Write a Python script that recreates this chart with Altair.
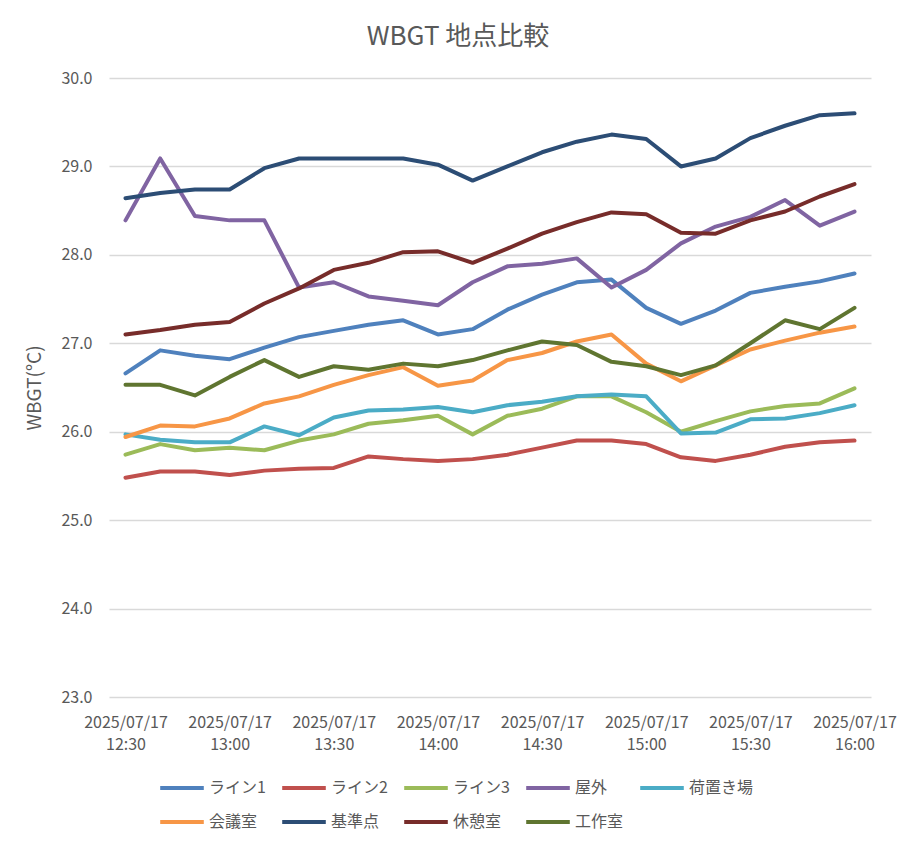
import altair as alt
import pandas as pd

DATE = "2025/07/17"
TIMES = ["12:30", "12:40", "12:50", "13:00", "13:10", "13:20", "13:30", "13:40",
         "13:50", "14:00", "14:10", "14:20", "14:30", "14:40", "14:50", "15:00",
         "15:10", "15:20", "15:30", "15:40", "15:50", "16:00"]
AXIS_TIMES = ["12:30", "13:00", "13:30", "14:00", "14:30", "15:00", "15:30", "16:00"]

SERIES = ["ライン1", "ライン2", "ライン3", "屋外", "荷置き場", "会議室", "基準点", "休憩室", "工作室"]
COLORS = ["#4F81BD", "#C0504D", "#9BBB59", "#8064A2", "#4BACC6", "#F79646", "#2C4D75", "#772C2A", "#5F7530"]

line1 = [26.66, 26.92, 26.86, 26.82, 26.95, 27.07, 27.14, 27.21, 27.26, 27.10, 27.16,
         27.38, 27.55, 27.69, 27.72, 27.40, 27.22, 27.37, 27.57, 27.64, 27.70, 27.79]
line2 = [25.48, 25.55, 25.55, 25.51, 25.56, 25.58, 25.59, 25.72, 25.69, 25.67, 25.69,
         25.74, 25.82, 25.90, 25.90, 25.86, 25.71, 25.67, 25.74, 25.83, 25.88, 25.90]
line3 = [25.74, 25.86, 25.79, 25.82, 25.79, 25.90, 25.97, 26.09, 26.13, 26.18, 25.97,
         26.18, 26.26, 26.40, 26.40, 26.22, 26.00, 26.12, 26.23, 26.29, 26.32, 26.49]
outdoor = [28.39, 29.09, 28.44, 28.39, 28.39, 27.63, 27.69, 27.53, 27.48, 27.43, 27.69,
           27.87, 27.90, 27.96, 27.63, 27.83, 28.13, 28.32, 28.43, 28.62, 28.33, 28.49]
storage = [25.97, 25.91, 25.88, 25.88, 26.06, 25.96, 26.16, 26.24, 26.25, 26.28, 26.22,
           26.30, 26.34, 26.40, 26.42, 26.40, 25.98, 25.99, 26.14, 26.15, 26.21, 26.30]
meeting = [25.94, 26.07, 26.06, 26.15, 26.32, 26.40, 26.53, 26.64, 26.73, 26.52, 26.58,
           26.81, 26.89, 27.02, 27.10, 26.77, 26.57, 26.75, 26.93, 27.03, 27.12, 27.19]
reference = [28.64, 28.70, 28.74, 28.74, 28.98, 29.09, 29.09, 29.09, 29.09, 29.02, 28.84,
             29.00, 29.16, 29.28, 29.36, 29.31, 29.00, 29.09, 29.32, 29.46, 29.58, 29.60]
rest = [27.10, 27.15, 27.21, 27.24, 27.45, 27.62, 27.83, 27.91, 28.03, 28.04, 27.91,
        28.07, 28.24, 28.37, 28.48, 28.46, 28.25, 28.24, 28.39, 28.49, 28.66, 28.80]
workshop = [26.53, 26.53, 26.41, 26.62, 26.81, 26.62, 26.74, 26.70, 26.77, 26.74, 26.81,
            26.92, 27.02, 26.98, 26.79, 26.74, 26.64, 26.75, 27.00, 27.26, 27.16, 27.40]

VALUES = [line1, line2, line3, outdoor, storage, meeting, reference, rest, workshop]

LABELS = [f"{DATE} {t}" for t in TIMES]
rows = []
for s, vals in zip(SERIES, VALUES):
    for lab, v in zip(LABELS, vals):
        rows.append({"time": lab, "series": s, "wbgt": v})
df = pd.DataFrame(rows)

FONT = "Noto Sans CJK JP"
GREY = "#595959"

chart = alt.Chart(df).mark_line(strokeWidth=4, strokeCap="round", strokeJoin="round").encode(
    x=alt.X("time:O", sort=LABELS,
            scale=alt.Scale(type="point", padding=0.475),
            axis=alt.Axis(values=[f"{DATE} {t}" for t in AXIS_TIMES],
                          labelExpr="split(datum.value, ' ')",
                          labelAngle=0, ticks=False, domain=False, grid=False,
                          title=None, labelPadding=17, labelLineHeight=22,
                          labelFontSize=16, labelColor=GREY, labelFont=FONT)),
    y=alt.Y("wbgt:Q",
            scale=alt.Scale(domain=[23, 30], nice=False, zero=False),
            axis=alt.Axis(values=[23, 24, 25, 26, 27, 28, 29, 30], format=".1f",
                          ticks=False, domain=False, gridColor="#D9D9D9", gridWidth=1.5,
                          labelPadding=17, labelFontSize=16, labelColor=GREY, labelFont=FONT,
                          title="WBGT(°C)", titleFontSize=19, titleFontWeight="normal",
                          titleColor=GREY, titleFont=FONT, titlePadding=16)),
    color=alt.Color("series:N", sort=SERIES,
                    scale=alt.Scale(domain=SERIES, range=COLORS),
                    legend=alt.Legend(orient="none", legendX=49, legendY=686, columns=5,
                                      direction="horizontal", title=None, padding=0,
                                      symbolType="stroke", symbolSize=1900, symbolStrokeWidth=4,
                                      labelFontSize=16, labelColor=GREY, labelFont=FONT,
                                      labelOffset=3, columnPadding=8, rowPadding=2)),
).properties(
    width=762, height=619,
    title=alt.TitleParams("WBGT 地点比較", fontSize=26, font=FONT, fontWeight="normal",
                          color=GREY, anchor="middle", dx=-32, offset=20),
    autosize=alt.AutoSizeParams(type="none"),
    padding={"left": 109, "top": 78, "right": 46, "bottom": 150},
).configure_view(stroke=None)

chart.save("out.html", embed_options={"renderer": "svg", "actions": False})
